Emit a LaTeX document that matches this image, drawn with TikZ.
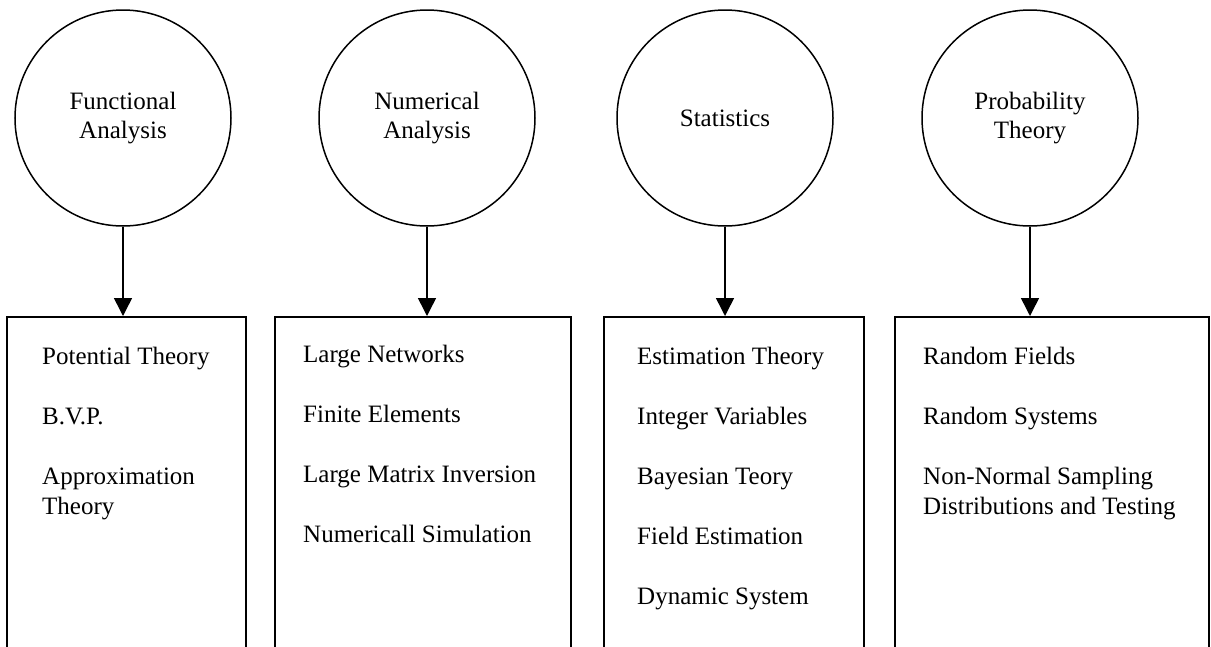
\documentclass[tikz,border=0pt]{standalone}
\usepackage{fontspec}
\setmainfont{Liberation Serif}
\usetikzlibrary{arrows.meta}
\tikzset{
  topic/.style={circle, draw, line width=1.5pt, minimum size=216pt, inner sep=0pt, align=center, font=\fontsize{25}{29}\selectfont},
  listbox/.style={rectangle, draw, line width=1.5pt, anchor=north west, minimum height=350pt, inner sep=0pt},
  item/.style={anchor=base west, inner sep=0pt, align=left, font=\fontsize{25}{30}\selectfont},
  arr/.style={line width=1.5pt, -{Triangle[width=18pt,length=18pt]}}
}
\begin{document}
\begin{tikzpicture}[x=1pt,y=-1pt]
\useasboundingbox (0,0) rectangle (1211,646);
\fill[white] (0,0) rectangle (1211,646);
\clip (0,0) rectangle (1211,646);
% circles
\node[topic] (c1) at (123,118) {Functional\\Analysis};
\node[topic] (c2) at (427,118) {Numerical\\Analysis};
\node[topic] (c3) at (725,118) {Statistics};
\node[topic] (c4) at (1030,118) {Probability\\Theory};
% boxes
\node[listbox, minimum width=239pt] (b1) at (6,316) {};
\node[listbox, minimum width=296pt] (b2) at (274,316) {};
\node[listbox, minimum width=260pt] (b3) at (603,316) {};
\node[listbox, minimum width=314pt] (b4) at (894,316) {};
% arrows
\draw[arr] (c1.south) -- (c1.south |- b1.north);
\draw[arr] (c2.south) -- (c2.south |- b2.north);
\draw[arr] (c3.south) -- (c3.south |- b3.north);
\draw[arr] (c4.south) -- (c4.south |- b4.north);
% box 1 items
\node[item] (t11) at (42,364) {Potential Theory};
\node[item] (t12) at (42,424) {B.V.P.};
\node[item] (t13) at (42,484) {Approximation};
\node[item] (t14) at (42,514) {Theory};
% box 2 items
\node[item] (t21) at (303,362) {Large Networks};
\node[item] (t22) at (303,422) {Finite Elements};
\node[item] (t23) at (303,482) {Large Matrix Inversion};
\node[item] (t24) at (303,542) {Numericall Simulation};
% box 3 items
\node[item] (t31) at (637,364) {Estimation Theory};
\node[item] (t32) at (637,424) {Integer Variables};
\node[item] (t33) at (637,484) {Bayesian Teory};
\node[item] (t34) at (637,544) {Field Estimation};
\node[item] (t35) at (637,604) {Dynamic System};
% box 4 items
\node[item] (t41) at (923,364) {Random Fields};
\node[item] (t42) at (923,424) {Random Systems};
\node[item] (t43) at (923,484) {Non-Normal Sampling};
\node[item] (t44) at (923,514) {Distributions and Testing};
\end{tikzpicture}
\end{document}
